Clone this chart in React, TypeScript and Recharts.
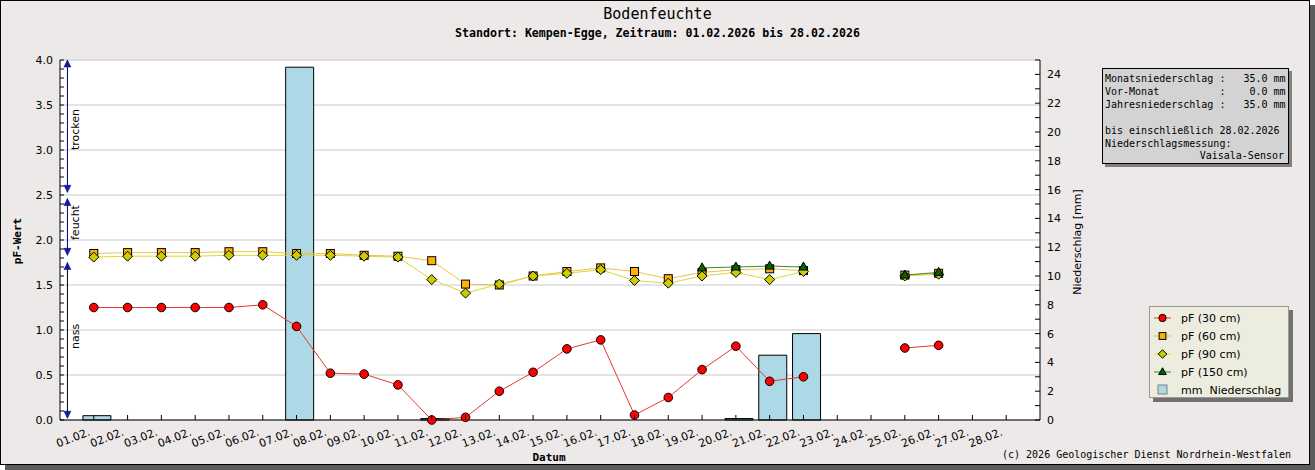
import { ComposedChart, Bar, Line, XAxis, YAxis, CartesianGrid, ReferenceLine, ReferenceDot, Rectangle } from "recharts";

const DAYS = [1, 2, 3, 4, 5, 6, 7, 8, 9, 10, 11, 12, 13, 14, 15, 16, 17, 18, 19, 20, 21, 22, 23, 24, 25, 26, 27, 28];
const DAY_LABELS = ["01.02.", "02.02.", "03.02.", "04.02.", "05.02.", "06.02.", "07.02.", "08.02.", "09.02.", "10.02.", "11.02.", "12.02.", "13.02.", "14.02.",
  "15.02.", "16.02.", "17.02.", "18.02.", "19.02.", "20.02.", "21.02.", "22.02.", "23.02.", "24.02.", "25.02.", "26.02.", "27.02.", "28.02."];

const PF_30 = [1.25, 1.25, 1.25, 1.25, 1.25, 1.28, 1.04, 0.52, 0.51, 0.39, 0.0, 0.03, 0.32, 0.53, 0.79, 0.89, 0.055, 0.25, 0.56, 0.82, 0.43, 0.48, null, null, 0.80, 0.83, null, null];
const PF_60 = [1.85, 1.86, 1.86, 1.86, 1.87, 1.87, 1.85, 1.85, 1.83, 1.82, 1.77, 1.51, 1.50, 1.60, 1.65, 1.69, 1.65, 1.57, 1.64, 1.67, 1.68, 1.66, null, null, 1.61, 1.63, null, null];
const PF_90 = [1.81, 1.82, 1.82, 1.82, 1.83, 1.83, 1.83, 1.83, 1.82, 1.81, 1.56, 1.41, 1.51, 1.60, 1.63, 1.67, 1.55, 1.52, 1.60, 1.64, 1.56, 1.65, null, null, 1.60, 1.62, null, null];
const PF_150 = [null, null, null, null, null, null, null, null, null, null, null, null, null, null, null, null, null, null, 1.69, 1.70, 1.71, 1.70, null, null, 1.61, 1.64, null, null];
const MM = [0.3, null, null, null, null, null, 24.5, null, null, null, 0.1, null, null, null, null, null, null, null, null, 0.1, 4.5, 6.0, null, null, null, null, null, null];

const PF_TICKS = [0, 0.5, 1.0, 1.5, 2.0, 2.5, 3.0, 3.5, 4.0];
const PF_MINOR = Array.from({ length: 41 }, (_, i) => i / 10);
const MM_TICKS = [0, 2, 4, 6, 8, 10, 12, 14, 16, 18, 20, 22, 24];
const MM_MINOR = Array.from({ length: 26 }, (_, i) => i);

// Feuchtebereiche am linken Rand (pF von/bis, Beschriftung ab)
const ZONES = [
  { name: "nass", from: 0.02, to: 1.75, label: 0.79, line: "#000000" },
  { name: "feucht", from: 1.83, to: 2.46, label: 2.0, line: "#000080" },
  { name: "trocken", from: 2.53, to: 4.0, label: 3.0, line: "#000080" },
];
const ZONE_X = 0.22;

const data = DAYS.map((day, i) => ({ day, p30: PF_30[i], p60: PF_60[i], p90: PF_90[i], p150: PF_150[i], mm: MM[i] }));

const SANS = "'DejaVu Sans', sans-serif";
const MONO = "'DejaVu Sans Mono', monospace";
const BG = "#ece9e8";

const C30 = { line: "#e23a32", fill: "#ff0000" };
const C60 = { line: "#f0c244", fill: "#ffb000" };
const C90 = { line: "#dcd838", fill: "#cccc00" };
const C150 = { line: "#3a8a3a", fill: "#006400" };

const mark = (kind: string, fill: string, cx: number, cy: number, key?: any, s = 1) => {
  if (kind === "circle") return <circle key={key} cx={cx} cy={cy} r={4.3 * s} fill={fill} stroke="#000" strokeWidth={1} />;
  if (kind === "square") return <rect key={key} x={cx - 4 * s} y={cy - 4 * s} width={8 * s} height={8 * s} fill={fill} stroke="#000" strokeWidth={1} />;
  if (kind === "diamond") return <polygon key={key} points={`${cx},${cy - 5 * s} ${cx + 5 * s},${cy} ${cx},${cy + 5 * s} ${cx - 5 * s},${cy}`} fill={fill} stroke="#000" strokeWidth={1} />;
  return <polygon key={key} points={`${cx},${cy - 5 * s} ${cx + 4.5 * s},${cy + 3 * s} ${cx - 4.5 * s},${cy + 3 * s}`} fill={fill} stroke="#000" strokeWidth={1} />;
};
const dot = (kind: string, fill: string) => (p: any) =>
  p.cy == null || p.value == null ? <g key={p.key} /> : mark(kind, fill, p.cx, p.cy, p.key);

// Balken sitzen im Original leicht rechts vom Tagesstrich
const BarShape = (p: any) => <Rectangle {...p} x={p.x + 3} />;

const XTick = ({ x, y, payload }: any) => {
  const lx = x - 3, ly = y + 15;
  return (
    <g>
      <line x1={x} x2={x} y1={y} y2={y - 5} stroke="#000" />
      <text x={lx} y={ly} transform={`rotate(-21 ${lx} ${ly})`} textAnchor="end" fontSize={11} fontFamily={SANS} fill="#000">
        {DAY_LABELS[DAYS.indexOf(payload.value)]}
      </text>
    </g>
  );
};

const LeftTick = ({ x, y, payload }: any) => {
  const major = PF_TICKS.some(t => Math.abs(t - payload.value) < 1e-6);
  return (
    <g>
      <line x1={x} x2={x + 4} y1={y} y2={y} stroke="#000" />
      {major && <text x={x - 7} y={y + 4} textAnchor="end" fontSize={11} fontFamily={SANS} fill="#000">{payload.value.toFixed(1)}</text>}
    </g>
  );
};

const RightTick = ({ x, y, payload }: any) => {
  const major = MM_TICKS.includes(payload.value);
  return (
    <g>
      <line x1={x} x2={x - 5} y1={y} y2={y} stroke="#000" />
      {major && <text x={x + 7} y={y + 4} textAnchor="start" fontSize={11} fontFamily={SANS} fill="#000">{payload.value}</text>}
    </g>
  );
};

const arrow = (up: boolean) => (p: any) => {
  const { cx, cy } = p;
  const d = up ? 7 : -7;
  return <polygon points={`${cx},${cy} ${cx - 3.5},${cy + d} ${cx + 3.5},${cy + d}`} fill="#1a1aa0" stroke="#000080" strokeWidth={0.5} />;
};
const zoneLabel = (text: string) => (p: any) => {
  const tx = p.cx + 11.5, ty = p.cy;
  return <text x={tx} y={ty} transform={`rotate(-90 ${tx} ${ty})`} fontSize={11} fontFamily={SANS} fill="#000">{text}</text>;
};

const LEGEND = [
  { name: "pF (30 cm)", kind: "circle", c: C30 },
  { name: "pF (60 cm)", kind: "square", c: C60 },
  { name: "pF (90 cm)", kind: "diamond", c: C90 },
  { name: "pF (150 cm)", kind: "triangle", c: C150 },
];

const INFO = [
  "Monatsniederschlag :   35.0 mm",
  "Vor-Monat          :    0.0 mm",
  "Jahresniederschlag :   35.0 mm",
  " ",
  "bis einschließlich 28.02.2026",
  "Niederschlagsmessung:",
];

export default function App() {
  return (
    <div style={{ position: "relative", width: 1315, height: 470, overflow: "hidden" }}>
      <style>{`body{margin:0}`}</style>
      <div style={{ position: "absolute", left: 0, top: 0, width: 1308, height: 463, background: BG, border: "1px solid #000", boxShadow: "5px 5px 0 #5c5c5c" }} />

      <div style={{ position: "absolute", left: 0, width: 1315, top: 5, textAlign: "center", fontFamily: MONO, fontSize: 15, color: "#000" }}>Bodenfeuchte</div>
      <div style={{ position: "absolute", left: 0, width: 1315, top: 26, textAlign: "center", fontFamily: MONO, fontSize: 11.6, fontWeight: "bold", color: "#000" }}>
        Standort: Kempen-Egge, Zeitraum: 01.02.2026 bis 28.02.2026
      </div>

      <div style={{ position: "absolute", left: 0, top: 0 }}>
        <ComposedChart width={1315} height={470} data={data} margin={{ top: 60, right: 235, bottom: 0, left: 0 }}>
          <CartesianGrid yAxisId="left" vertical={false} horizontalValues={PF_TICKS} stroke="#c8c8c8" fill="#ffffff" fillOpacity={1} />
          <XAxis dataKey="day" type="number" domain={[0, 29]} ticks={DAYS} interval={0} height={50} tickSize={0} tickMargin={0}
            tickLine={false} axisLine={{ stroke: "#000" }} tick={<XTick />} />
          <YAxis yAxisId="left" domain={[0, 4]} ticks={PF_MINOR} interval={0} width={60} tickSize={0} tickMargin={0}
            tickLine={false} axisLine={{ stroke: "#000" }} tick={<LeftTick />} />
          <YAxis yAxisId="mm" orientation="right" domain={[0, 25]} ticks={MM_MINOR} interval={0} width={40} tickSize={0} tickMargin={0}
            tickLine={false} axisLine={{ stroke: "#000" }} tick={<RightTick />} />

          <Bar yAxisId="mm" dataKey="mm" barSize={28} fill="#add8e6" stroke="#000" strokeWidth={1} shape={BarShape} isAnimationActive={false} />

          {ZONES.map(z => (
            <ReferenceLine key={z.name + "l"} yAxisId="left" ifOverflow="visible" stroke={z.line} strokeWidth={1}
              segment={[{ x: ZONE_X, y: z.from }, { x: ZONE_X, y: z.to }]} />
          ))}
          {ZONES.map(z => <ReferenceDot key={z.name + "d"} yAxisId="left" x={ZONE_X} y={z.from} ifOverflow="visible" shape={arrow(false)} />)}
          {ZONES.map(z => <ReferenceDot key={z.name + "u"} yAxisId="left" x={ZONE_X} y={z.to} ifOverflow="visible" shape={arrow(true)} />)}
          {ZONES.map(z => <ReferenceDot key={z.name + "t"} yAxisId="left" x={ZONE_X} y={z.label} ifOverflow="visible" shape={zoneLabel(z.name)} />)}

          <Line yAxisId="left" dataKey="p30" stroke={C30.line} strokeWidth={1} dot={dot("circle", C30.fill)} activeDot={false} isAnimationActive={false} />
          <Line yAxisId="left" dataKey="p60" stroke={C60.line} strokeWidth={1} dot={dot("square", C60.fill)} activeDot={false} isAnimationActive={false} />
          <Line yAxisId="left" dataKey="p90" stroke={C90.line} strokeWidth={1} dot={dot("diamond", C90.fill)} activeDot={false} isAnimationActive={false} />
          <Line yAxisId="left" dataKey="p150" stroke={C150.line} strokeWidth={1} dot={dot("triangle", C150.fill)} activeDot={false} isAnimationActive={false} />
        </ComposedChart>
      </div>

      <div style={{ position: "absolute", left: 17, top: 241, transform: "translate(-50%,-50%) rotate(-90deg)", fontFamily: MONO, fontSize: 11, fontWeight: "bold", whiteSpace: "nowrap" }}>pF-Wert</div>
      <div style={{ position: "absolute", left: 1077, top: 242, transform: "translate(-50%,-50%) rotate(-90deg)", fontFamily: SANS, fontSize: 11, whiteSpace: "nowrap" }}>Niederschlag [mm]</div>
      <div style={{ position: "absolute", left: 549, top: 457, transform: "translate(-50%,-50%)", fontFamily: MONO, fontSize: 11, fontWeight: "bold" }}>Datum</div>

      <div style={{ position: "absolute", left: 1102, top: 68, width: 187, height: 96, background: "#d3d3d3", border: "1px solid #000", boxShadow: "3px 3px 0 #808080",
        fontFamily: MONO, fontSize: 10, lineHeight: "12.9px", padding: "4px 0 0 2px", boxSizing: "border-box", whiteSpace: "pre" }}>
        {INFO.map((t, i) => <div key={i}>{t}</div>)}
        <div style={{ textAlign: "right", paddingRight: 4 }}>Vaisala-Sensor</div>
      </div>

      <div style={{ position: "absolute", left: 1149, top: 306, width: 138, height: 90, background: "#ededdf", border: "1px solid #9a9a9a", boxShadow: "4px 4px 0 #707070" }}>
        <svg width={138} height={90} style={{ position: "absolute", left: 0, top: 0 }}>
          {LEGEND.map((e, i) => (
            <g key={e.name}>
              <line x1={4} x2={21} y1={11 + i * 18} y2={11 + i * 18} stroke={e.c.line} />
              {mark(e.kind, e.c.fill, 12.5, 11 + i * 18, undefined, 0.85)}
              <text x={31} y={15 + i * 18} fontSize={11} fontFamily={SANS}>{e.name}</text>
            </g>
          ))}
          <rect x={8} y={78} width={9} height={9} fill="#add8e6" stroke="#808080" />
          <text x={31} y={87} fontSize={11} fontFamily={SANS} style={{ whiteSpace: "pre" }}>{"mm  Niederschlag"}</text>
        </svg>
      </div>

      <div style={{ position: "absolute", left: 1002, top: 449, fontFamily: MONO, fontSize: 10, whiteSpace: "nowrap" }}>(c) 2026 Geologischer Dienst Nordrhein-Westfalen</div>
    </div>
  );
}
